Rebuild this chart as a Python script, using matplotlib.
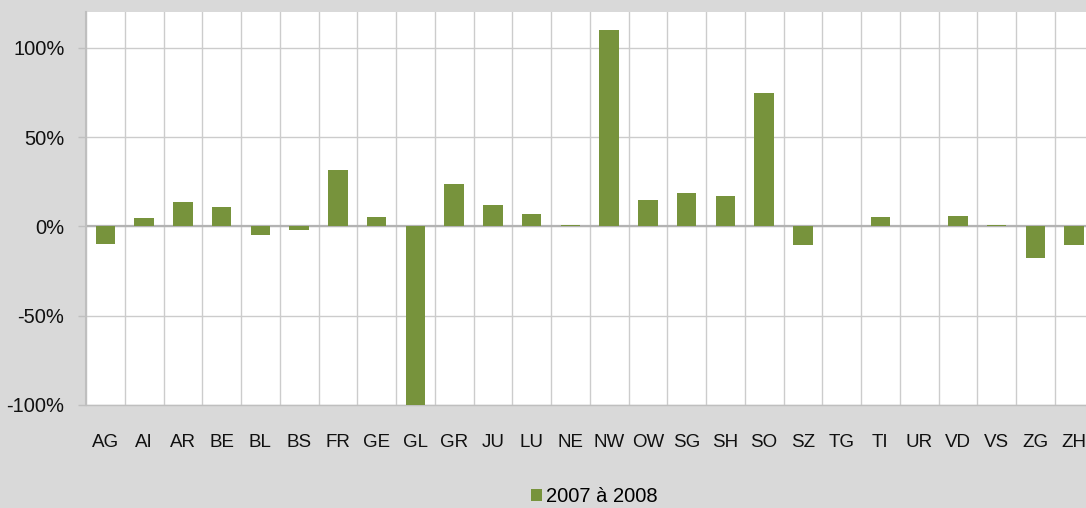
import matplotlib.pyplot as plt
import numpy as np

# --- Data: change 2007 -> 2008 by canton (%) ---
cantons = ["AG", "AI", "AR", "BE", "BL", "BS", "FR", "GE", "GL", "GR", "JU", "LU", "NE",
           "NW", "OW", "SG", "SH", "SO", "SZ", "TG", "TI", "UR", "VD", "VS", "ZG", "ZH"]
change_pct = [-9.7, 4.7, 13.8, 11.0, -4.6, -2.2, 31.4, 5.4, -100.0, 23.8, 12.2, 7.1, 0.6,
              109.8, 15.0, 18.9, 17.0, 74.7, -10.7, 0.0, 5.0, 0.0, 5.8, 0.6, -17.8, -10.3]
yticks = [-100, -50, 0, 50, 100]
series_label = "2007 à 2008"

BG = "#d9d9d9"
BAR = "#77933c"
GRID = "#cccccc"

plt.rcParams["font.family"] = ["Liberation Sans", "DejaVu Sans"]

fig = plt.figure(figsize=(10.86, 5.08), dpi=100, facecolor=BG)
ax = fig.add_axes([86 / 1086, 103 / 508, 1007.5 / 1086, 393 / 508])
ax.set_facecolor("white")

x = np.arange(len(cantons))
bars = ax.bar(x, change_pct, width=0.5, color=BAR, edgecolor="none",
              label=series_label, zorder=3)

ax.set_xlim(-0.5, len(cantons) - 0.5)
ax.set_ylim(-100, 120)

# y axis
ax.set_yticks(yticks)
ax.set_yticklabels([f"{v}%" for v in yticks], fontsize=14.5, color="#111111")
ax.tick_params(axis="y", length=6, width=1, color="#bfbfbf", pad=9.5)
ax.yaxis.grid(True, color=GRID, linewidth=1, zorder=1)
ax.axhline(0, color="#b3b3b3", linewidth=1.6, zorder=2)

# x axis: labels centred, grid at category boundaries
ax.set_xticks(x)
ax.set_xticklabels(cantons, fontsize=13.5, color="#111111")
ax.tick_params(axis="x", which="major", length=0, pad=21)
ax.set_xticks(np.arange(-0.5, len(cantons)), minor=True)
ax.tick_params(axis="x", which="minor", length=0)
ax.xaxis.grid(True, which="minor", color=GRID, linewidth=1, zorder=1)

for side in ["top", "right"]:
    ax.spines[side].set_visible(False)
ax.spines["left"].set_color("#bfbfbf")
ax.spines["left"].set_linewidth(1.5)
ax.spines["bottom"].set_color("#bfbfbf")
ax.spines["bottom"].set_linewidth(1)

fig.legend(handles=[bars], labels=[series_label], loc="center",
           bbox_to_anchor=(594 / 1086, 1 - 497 / 508), frameon=False,
           fontsize=14.5, handlelength=0.55, handleheight=0.55, handletextpad=0.2)

fig.savefig("out.png", dpi=100, facecolor=BG)
